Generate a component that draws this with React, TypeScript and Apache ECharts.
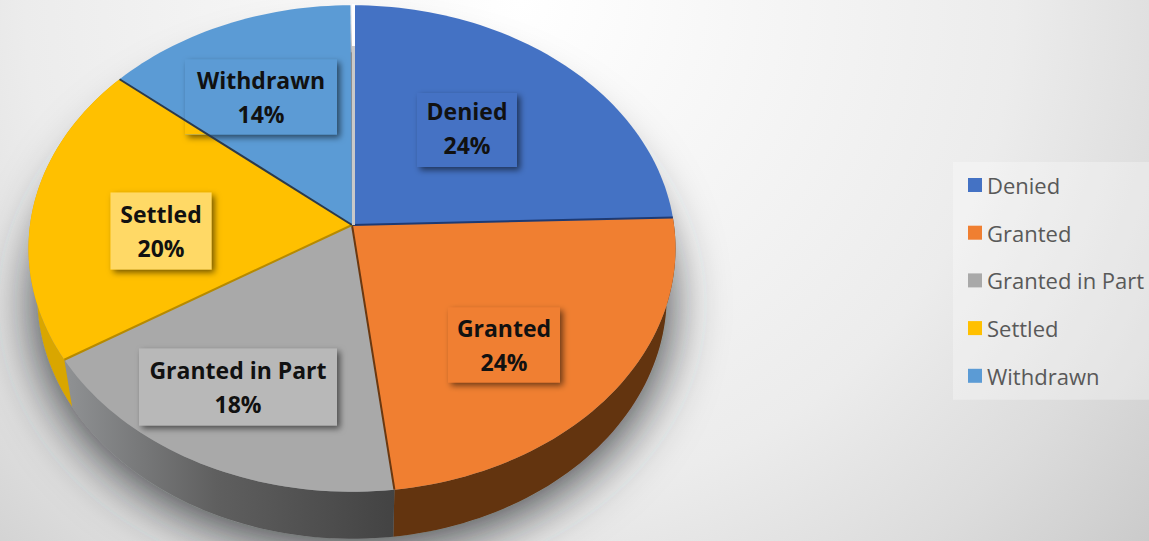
import React, { useEffect, useRef } from "react";
import * as echarts from "echarts";

const categories = ["Denied", "Granted", "Granted in Part", "Settled", "Withdrawn"];
const values = [24.5, 23.6, 18, 20, 13.9];
const percentLabels = ["24%", "24%", "18%", "20%", "14%"];
const faceColors = ["#4472c4", "#f07f31", "#a9a9a9", "#ffc000", "#5b9bd5"];

const WIDTH = 1149;
const HEIGHT = 541;
const CX = 352;
const CY = 225;
const RX = 322;
const RY = 241;
const PERSPECTIVE = 0.0965;
const RIM_SCALE_X = 0.973;
const RIM_CY = 272;
const SPLIT = 1.5;

const total = values.reduce((a, b) => a + b, 0);

const wallFills: any[] = [
  null,
  "#63340f",
  {
    type: "linear", x: 70, y: 0, x2: 395, y2: 0, global: true,
    colorStops: [
      { offset: 0, color: "#8e9092" },
      { offset: 0.45, color: "#5f5f5f" },
      { offset: 1, color: "#434343" },
    ],
  },
  "#d9a600",
  null,
];
const edgeColors = ["#1e3a73", "#6a3810", "#b68a00", "#2b3a4c", "#c9c9c9"];
const boxFills = ["#4472c4", "#f07f31", "#b8b8b8", "#ffd966", "#5b9bd5"];
const boxes = [
  { cx: 467, cy: 130, w: 100, h: 74, dy: -2 },
  { cx: 504, cy: 345, w: 112, h: 75, dy: 0 },
  { cx: 238, cy: 387, w: 198, h: 77, dy: 0 },
  { cx: 161, cy: 231, w: 101, h: 77, dy: 0 },
  { cx: 261, cy: 97, w: 152, h: 75, dy: 0 },
];

function topPoint(deg: number) {
  const t = (deg * Math.PI) / 180;
  const w = 1 + PERSPECTIVE * Math.cos(t);
  return [CX + (RX * Math.sin(t)) / w, CY - (RY * Math.cos(t)) / w];
}
function rimPoint(deg: number) {
  const t = (deg * Math.PI) / 180;
  const w = 1 + PERSPECTIVE * Math.cos(t);
  return [CX + (RIM_SCALE_X * RX * Math.sin(t)) / w, RIM_CY - (RY * Math.cos(t)) / w];
}
function arc(fn: (d: number) => number[], a: number, b: number) {
  const pts: number[][] = [];
  const n = Math.max(2, Math.ceil(Math.abs(b - a) / 1.5));
  for (let i = 0; i <= n; i++) pts.push(fn(a + ((b - a) * i) / n));
  return pts;
}
function sliceEnd(index: number) {
  return (values.slice(0, index + 1).reduce((a, b) => a + b, 0) / total) * 360;
}

function renderSlice(index: number) {
  const start = index === 0 ? 0 : sliceEnd(index - 1);
  const end = sliceEnd(index);
  const children: any[] = [];
  if (wallFills[index]) {
    children.push({
      type: "polygon",
      silent: true,
      shape: { points: [...arc(topPoint, start, end), ...arc(rimPoint, end, start)] },
      style: { fill: wallFills[index] },
    });
  }
  const apexX = index === 0 ? CX + SPLIT : CX;
  const arcPts = arc(topPoint, index === 0 ? 0.3 : start, index === 4 ? 359.7 : end);
  children.push({
    type: "polygon",
    silent: true,
    shape: { points: [[apexX, CY], ...arcPts] },
    style: { fill: faceColors[index] },
  });
  return children;
}

function renderEdge(index: number) {
  const p = topPoint(sliceEnd(index));
  const last = index === categories.length - 1;
  return {
    type: "line",
    silent: true,
    shape: { x1: CX + (last ? SPLIT : 0), y1: CY, x2: p[0] + (last ? SPLIT : 0), y2: p[1] },
    style: { stroke: edgeColors[index], lineWidth: last ? 3 : 2 },
  };
}

function renderLabel(index: number) {
  const b = boxes[index];
  const left = b.cx - b.w / 2;
  const bottom = b.cy + b.h / 2;
  const children: any[] = [
    {
      type: "rect",
      silent: true,
      shape: { x: left, y: b.cy - b.h / 2, width: b.w, height: b.h },
      style: { fill: boxFills[index], shadowBlur: 6, shadowOffsetX: 3, shadowOffsetY: 3, shadowColor: "rgba(0,0,0,0.55)" },
    },
  ];
  if (index === 4) {
    // The neighbouring slice stays on top of this label's box where the two overlap.
    const p = topPoint(sliceEnd(3));
    const slope = (p[1] - CY) / (p[0] - CX);
    children.push({
      type: "polygon",
      silent: true,
      shape: {
        points: [
          [left, CY + slope * (left - CX)],
          [CX + (bottom - CY) / slope, bottom],
          [left, bottom],
        ],
      },
      style: { fill: faceColors[3] },
    });
  }
  children.push(
    {
      type: "text",
      silent: true,
      x: b.cx,
      y: b.cy - 17 + b.dy,
      style: { text: categories[index], fill: "#111", font: "bold 23px 'Open Sans'", textAlign: "center", textVerticalAlign: "middle" },
    },
    {
      type: "text",
      silent: true,
      x: b.cx,
      y: b.cy + 17 + b.dy,
      style: { text: percentLabels[index], fill: "#111", font: "bold 23px 'Open Sans'", textAlign: "center", textVerticalAlign: "middle" },
    },
  );
  return children;
}

export default function App() {
  const ref = useRef<HTMLDivElement>(null);
  useEffect(() => {
    document.body.style.margin = "0";
    const chart = echarts.init(ref.current!, undefined, { renderer: "svg" });
    const sliceSeries = categories.map((name, i) => ({
      type: "custom",
      name,
      coordinateSystem: "none",
      silent: true,
      z: 3,
      itemStyle: { color: faceColors[i] },
      data: [[values[i]]],
      renderItem: () => ({ type: "group", children: renderSlice(i) }),
    }));
    chart.setOption({
      animation: false,
      backgroundColor: {
        type: "radial", x: 520, y: 0, r: 900, global: true,
        colorStops: [
          { offset: 0, color: "#ffffff" },
          { offset: 0.55, color: "#ececec" },
          { offset: 0.75, color: "#dcdcdc" },
          { offset: 0.95, color: "#c8c8c8" },
          { offset: 1, color: "#c6c6c6" },
        ],
      },
      legend: {
        left: 953,
        top: 162,
        orient: "vertical",
        data: categories,
        icon: "rect",
        itemWidth: 14,
        itemHeight: 14,
        itemGap: 25.7,
        selectedMode: false,
        padding: [12, 5, 13, 15],
        backgroundColor: "rgba(255,255,255,0.3)",
        textStyle: { fontFamily: "'Open Sans'", fontSize: 22, color: "#595959" },
      },
      series: [
        {
          type: "custom",
          name: "shadow",
          coordinateSystem: "none",
          silent: true,
          z: 1,
          data: [[total]],
          renderItem: () => ({
            type: "polygon",
            silent: true,
            shape: { points: arc(rimPoint, 0, 360) },
            style: { fill: "#8a8c8e", shadowBlur: 56, shadowOffsetY: 8, shadowColor: "rgba(45,48,52,1)" },
          }),
        },
        ...sliceSeries,
        {
          type: "custom",
          name: "labels",
          coordinateSystem: "none",
          silent: true,
          z: 4,
          data: [[total]],
          renderItem: () => ({
            type: "group",
            children: categories.flatMap((_, i) => renderLabel(i)),
          }),
        },
        {
          type: "custom",
          name: "edges",
          coordinateSystem: "none",
          silent: true,
          z: 5,
          data: [[total]],
          renderItem: () => ({
            type: "group",
            children: [
              ...categories.map((_, i) => renderEdge(i)),
              {
                type: "line",
                silent: true,
                shape: { x1: CX + SPLIT, y1: 4, x2: CX + SPLIT, y2: 46 },
                style: { stroke: "#ffffff", lineWidth: 3 },
              },
            ],
          }),
        },
      ],
    });
    return () => chart.dispose();
  }, []);
  return <div ref={ref} style={{ position: "absolute", left: 0, top: 0, width: WIDTH, height: HEIGHT }} />;
}
